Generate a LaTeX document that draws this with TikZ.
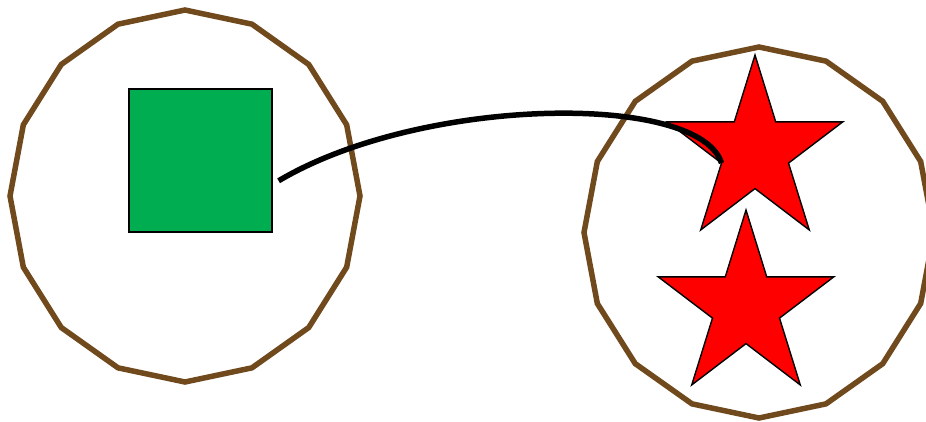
\documentclass[tikz,border=0pt]{standalone}
\definecolor{rimbrown}{RGB}{112,73,29}
\definecolor{boxgreen}{RGB}{0,173,80}
\tikzset{
  rim/.style={draw=rimbrown,line width=5.5pt,line join=miter},
  starshape/.style={draw=black,line width=1.4pt,fill=red,line join=miter},
  link/.style={draw=black,line width=5.5pt},
  redstar/.pic={
    \draw[starshape] (0,-96.7)
      \foreach \a/\rr in {126/36.9,162/96.7,198/36.9,234/96.7,270/36.9,306/96.7,342/36.9,18/96.7,54/36.9}
      { -- ({0.955*\rr*cos(\a)},{-\rr*sin(\a)}) } -- cycle;
    \coordinate (-tip) at ({0.955*36.9*cos(198)},{-36.9*sin(198)});
  }
}
\begin{document}
\begin{tikzpicture}[x=1pt,y=-1pt]
\useasboundingbox (0,0) rectangle (926,421);
% outer polygons
\draw[rim] (360,196) \foreach \a in {22.5,45,...,337.5} { -- ({185+175*cos(\a)},{196+186*sin(\a)}) } -- cycle;
\draw[rim] (934,232.5) \foreach \a in {22.5,45,...,337.5} { -- ({759+175*cos(\a)},{232.5+185.5*sin(\a)}) } -- cycle;
% green square
\node[draw=black,fill=boxgreen,line width=1.6pt,minimum width=143pt,minimum height=143pt,inner sep=0pt,anchor=north west] (sq) at (128,88) {};
% stars
\pic (s1) at (755,151.7) {redstar};
\pic (s2) at (746,306.7) {redstar};
% connector
\draw[link] ([xshift=6pt,yshift=-20.5pt]sq.east) .. controls +(143,-85) and +(-22,-71) .. (s1-tip);
\end{tikzpicture}
\end{document}
